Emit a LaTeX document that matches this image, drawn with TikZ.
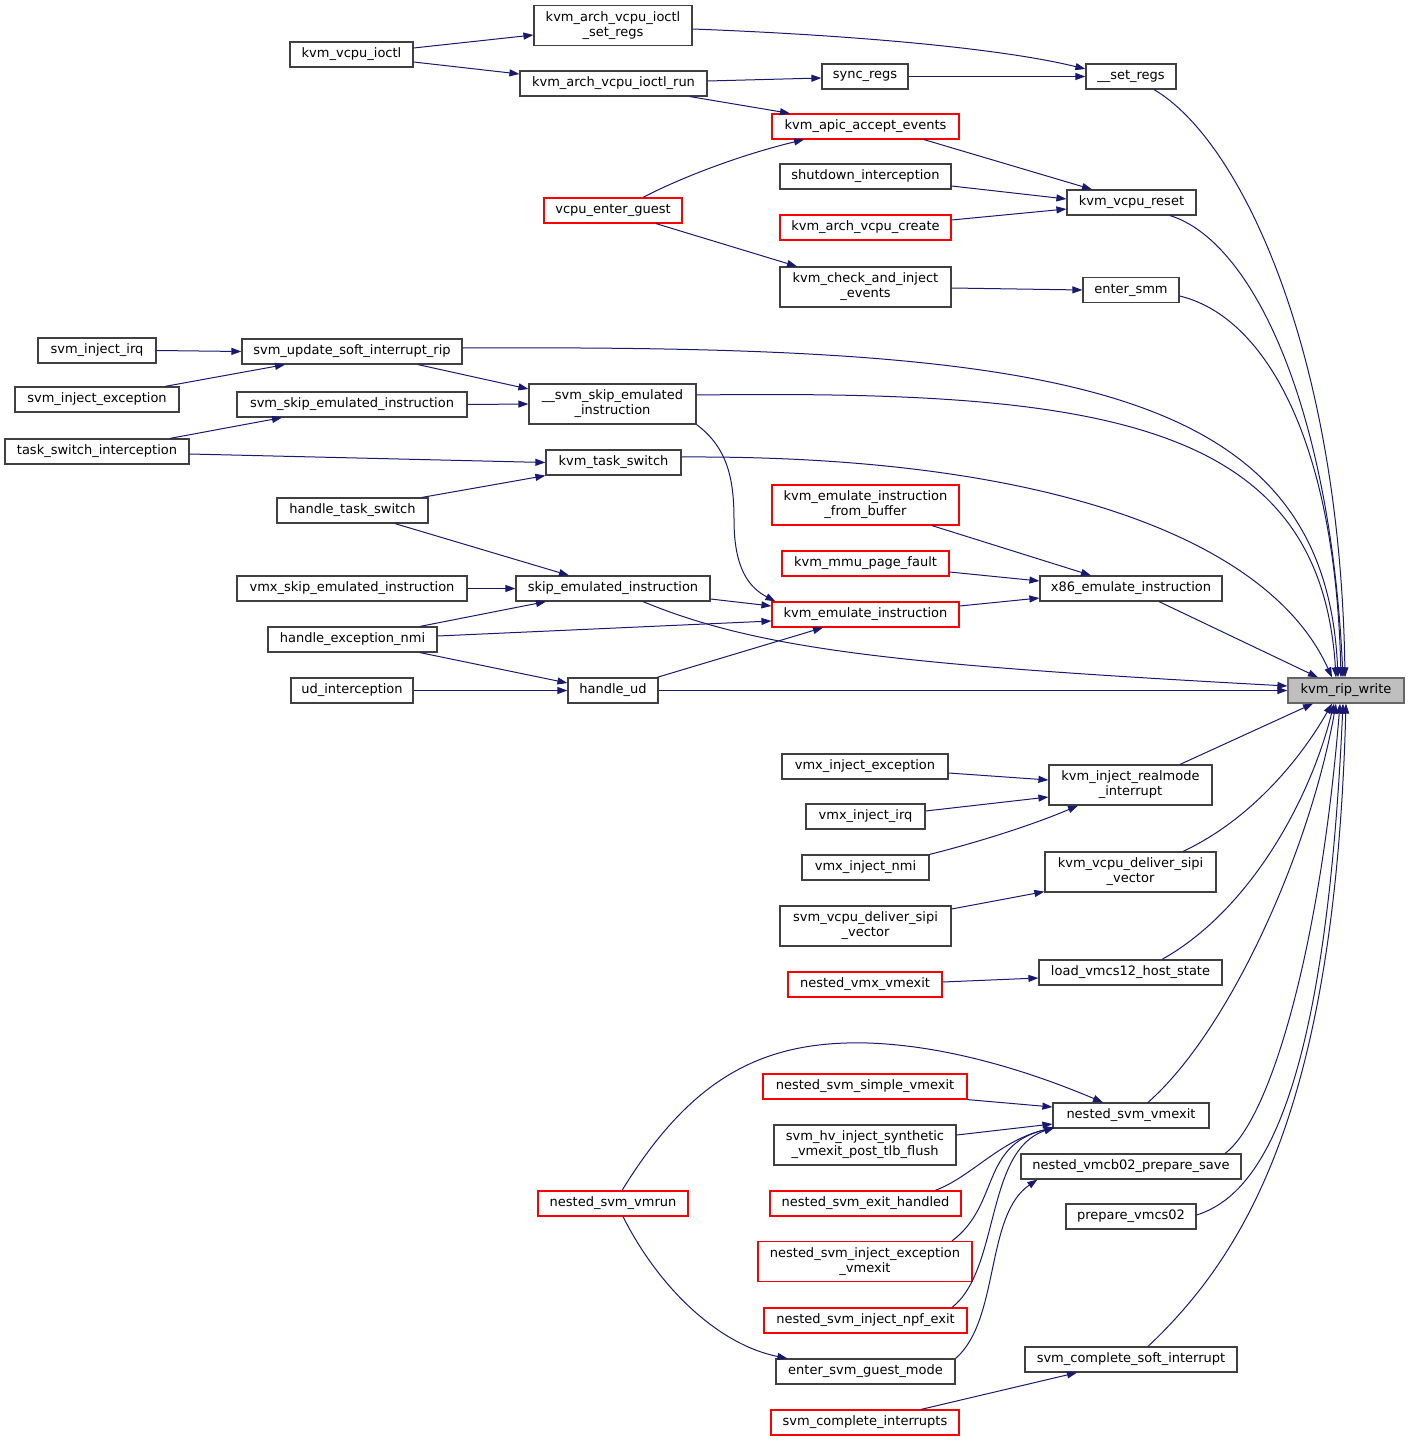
\documentclass[tikz,border=0pt]{standalone}
\usepackage{fontspec}
\newfontfamily\dvs{DejaVu Sans}
\usetikzlibrary{arrows.meta}
\definecolor{edgecol}{HTML}{191970}
\definecolor{boxcol}{HTML}{404040}
\definecolor{ripfill}{HTML}{BFBFBF}
\definecolor{ripdraw}{HTML}{666666}
\tikzset{
  fn/.style={draw=boxcol, line width=1.2pt, fill=white, text=black,
    font=\dvs\fontsize{13}{15}\selectfont, inner xsep=2pt, inner ysep=0pt,
    minimum height=25pt, align=center},
  two/.style={minimum height=40pt},
  hl/.style={draw=red},
  edge/.style={draw=edgecol, line width=1pt, -{Triangle[length=10pt,width=7pt]}}
}
\begin{document}
\begin{tikzpicture}[x=1pt,y=-1pt]
\useasboundingbox (0,0) rectangle (1409,1442);
% nodes
\node[fn,fill=ripfill,draw=ripdraw,minimum width=116pt] (rip) at (1346,690.5) {kvm\_rip\_write};
\node[fn,minimum width=90pt] (setregs) at (1131,76.5) {\_\_set\_regs};
\node[fn,two,minimum width=158pt] (ioctlsetregs) at (613,25.5) {kvm\_arch\_vcpu\_ioctl\\\_set\_regs};
\node[fn,minimum width=123pt] (vcpuioctl) at (351.5,54.5) {kvm\_vcpu\_ioctl};
\node[fn,minimum width=187pt] (ioctlrun) at (613.5,83.5) {kvm\_arch\_vcpu\_ioctl\_run};
\node[fn,minimum width=86pt] (syncregs) at (865,76.5) {sync\_regs};
\node[fn,hl,minimum width=187pt] (apic) at (865.5,126.5) {kvm\_apic\_accept\_events};
\node[fn,minimum width=171pt] (shutdown) at (865.5,176.5) {shutdown\_interception};
\node[fn,minimum width=129pt] (vcpureset) at (1131.5,202.5) {kvm\_vcpu\_reset};
\node[fn,hl,minimum width=138pt] (enterguest) at (613,210.5) {vcpu\_enter\_guest};
\node[fn,hl,minimum width=171pt] (vcpucreate) at (865.5,227.5) {kvm\_arch\_vcpu\_create};
\node[fn,two,minimum width=171pt] (checkinject) at (865.5,287) {kvm\_check\_and\_inject\\\_events};
\node[fn,minimum width=96pt] (entersmm) at (1131,290) {enter\_smm};
\node[fn,minimum width=118pt] (svminjirq) at (97,350.5) {svm\_inject\_irq};
\node[fn,minimum width=220pt] (svmupd) at (352,351.5) {svm\_update\_soft\_interrupt\_rip};
\node[fn,minimum width=164pt] (svminjexc) at (97,399.5) {svm\_inject\_exception};
\node[fn,two,minimum width=167pt] (svmskip2) at (612.5,404) {\_\_svm\_skip\_emulated\\\_instruction};
\node[fn,minimum width=230pt] (svmskip) at (352,404.5) {svm\_skip\_emulated\_instruction};
\node[fn,minimum width=184pt] (tsi) at (97,451.5) {task\_switch\_interception};
\node[fn,minimum width=135pt] (kvmts) at (613.5,462.5) {kvm\_task\_switch};
\node[fn,hl,two,minimum width=187pt] (emufb) at (865.5,505) {kvm\_emulate\_instruction\\\_from\_buffer};
\node[fn,minimum width=151pt] (hts) at (352.5,510.5) {handle\_task\_switch};
\node[fn,hl,minimum width=167pt] (mmupf) at (865.5,563.5) {kvm\_mmu\_page\_fault};
\node[fn,minimum width=230pt] (vmxskip) at (352,588.5) {vmx\_skip\_emulated\_instruction};
\node[fn,minimum width=194pt] (skip) at (613,588.5) {skip\_emulated\_instruction};
\node[fn,minimum width=182pt] (x86emu) at (1131,588.5) {x86\_emulate\_instruction};
\node[fn,hl,minimum width=187pt] (kvmemu) at (865.5,614.5) {kvm\_emulate\_instruction};
\node[fn,minimum width=169pt] (hen) at (352.5,639.5) {handle\_exception\_nmi};
\node[fn,minimum width=122pt] (udint) at (352,690.5) {ud\_interception};
\node[fn,minimum width=90pt] (hud) at (613,690.5) {handle\_ud};
\node[fn,minimum width=166pt] (vmxinjexc) at (865,766.5) {vmx\_inject\_exception};
\node[fn,two,minimum width=163pt] (realmode) at (1130.5,785) {kvm\_inject\_realmode\\\_interrupt};
\node[fn,minimum width=119pt] (vmxinjirq) at (865.5,816.5) {vmx\_inject\_irq};
\node[fn,minimum width=127pt] (vmxinjnmi) at (865.5,867.5) {vmx\_inject\_nmi};
\node[fn,two,minimum width=171pt] (sipi) at (1130.5,872) {kvm\_vcpu\_deliver\_sipi\\\_vector};
\node[fn,two,minimum width=171pt] (svmsipi) at (865.5,926) {svm\_vcpu\_deliver\_sipi\\\_vector};
\node[fn,minimum width=183pt] (load12) at (1130.5,972.5) {load\_vmcs12\_host\_state};
\node[fn,hl,minimum width=154pt] (nvmxexit) at (865,984.5) {nested\_vmx\_vmexit};
\node[fn,hl,minimum width=204pt] (nsimple) at (865,1086.5) {nested\_svm\_simple\_vmexit};
\node[fn,minimum width=156pt] (nsvmexit) at (1131,1115.5) {nested\_svm\_vmexit};
\node[fn,two,minimum width=182pt] (hvinject) at (865,1145) {svm\_hv\_inject\_synthetic\\\_vmexit\_post\_tlb\_flush};
\node[fn,minimum width=220pt] (prepsave) at (1131,1166.5) {nested\_vmcb02\_prepare\_save};
\node[fn,hl,minimum width=150pt] (vmrun) at (613,1203.5) {nested\_svm\_vmrun};
\node[fn,hl,minimum width=191pt] (exithandled) at (865.5,1203.5) {nested\_svm\_exit\_handled};
\node[fn,minimum width=130pt] (prep02) at (1131,1216.5) {prepare\_vmcs02};
\node[fn,hl,two,minimum width=214pt] (injexcvmexit) at (865,1261.5) {nested\_svm\_inject\_exception\\\_vmexit};
\node[fn,hl,minimum width=203pt] (npf) at (865.5,1320.5) {nested\_svm\_inject\_npf\_exit};
\node[fn,minimum width=212pt] (softint) at (1131,1359.5) {svm\_complete\_soft\_interrupt};
\node[fn,minimum width=179pt] (enterguestmode) at (865.5,1371.5) {enter\_svm\_guest\_mode};
\node[fn,hl,minimum width=188pt] (complint) at (865,1422.5) {svm\_complete\_interrupts};
% edges
\draw[edge] ([yshift=6.5pt]vcpuioctl.east) -- ([yshift=-9.5pt]ioctlsetregs.west);
\draw[edge] ([yshift=-7.5pt]vcpuioctl.east) -- ([yshift=9.5pt]ioctlrun.west);
\draw[edge] ([yshift=-3.5pt]ioctlsetregs.east) .. controls (850,35) and (1000,48) .. ([yshift=7.5pt]setregs.west);
\draw[edge] ([yshift=2.5pt]ioctlrun.east) -- ([yshift=-1.5pt]syncregs.west);
\draw[edge] (syncregs.east) -- (setregs.west);
\draw[edge] ([xshift=76.5pt]ioctlrun.south) -- ([xshift=-75.5pt]apic.north);
\draw[edge] ([xshift=30pt]enterguest.north) .. controls (680,178) and (740,155) .. ([xshift=-61.5pt]apic.south);
\draw[edge] ([xshift=58.5pt]apic.south) -- ([xshift=-39.5pt]vcpureset.north);
\draw[edge] ([yshift=-9.5pt]shutdown.east) -- ([yshift=3.5pt]vcpureset.west);
\draw[edge] ([yshift=7.5pt]vcpucreate.east) -- ([yshift=-6.5pt]vcpureset.west);
\draw[edge] ([xshift=43pt]enterguest.south) -- ([xshift=-68.5pt]checkinject.north);
\draw[edge] ([yshift=-1pt]checkinject.east) -- (entersmm.west);
\draw[edge] (svminjirq.east) -- (svmupd.west);
\draw[edge] ([xshift=68pt]svminjexc.north) -- ([xshift=-67pt]svmupd.south);
\draw[edge] ([xshift=66pt]svmupd.south) -- ([yshift=15pt]svmskip2.west);
\draw[edge] (svmskip.east) -- (svmskip2.west);
\draw[edge] ([xshift=73pt]tsi.north) -- ([xshift=-70pt]svmskip.south);
\draw[edge] ([yshift=-2.5pt]tsi.east) -- (kvmts.west);
\draw[edge] ([xshift=69.5pt]hts.north) -- (kvmts.south west);
\draw[edge] ([xshift=42.5pt]hts.south) -- ([xshift=-44pt]skip.north);
\draw[edge] (vmxskip.east) -- (skip.west);
\draw[edge] ([xshift=67.5pt]hen.north) -- ([xshift=-67pt]skip.south);
\draw[edge] ([yshift=-10.5pt]skip.east) -- ([yshift=8.5pt]kvmemu.west);
\draw[edge] ([yshift=3.5pt]hen.east) -- ([yshift=-6.5pt]kvmemu.west);
\draw[edge] ([xshift=44pt]hud.north) -- ([xshift=-42.5pt]kvmemu.south);
\draw[edge] (svmskip2.south east) .. controls (728,448) and (734,480) .. (734,520) .. controls (734,570) and (750,588) .. ([xshift=4pt]kvmemu.north west);
\draw[edge] ([xshift=67.5pt]hen.south) -- ([yshift=7.5pt]hud.west);
\draw[edge] (udint.east) -- (hud.west);
\draw[edge] ([xshift=66.5pt]emufb.south) -- ([xshift=-40pt]x86emu.north);
\draw[edge] ([yshift=-8.5pt]mmupf.east) -- ([yshift=7.5pt]x86emu.west);
\draw[edge] ([yshift=8.5pt]kvmemu.east) -- ([yshift=-9.5pt]x86emu.west);
\draw[edge] ([yshift=-6.5pt]vmxinjexc.east) -- ([yshift=5pt]realmode.west);
\draw[edge] ([yshift=5.5pt]vmxinjirq.east) -- ([yshift=-12pt]realmode.west);
\draw[edge] (vmxinjnmi.north east) .. controls (975,843) and (1030,826) .. ([xshift=-52.5pt]realmode.south);
\draw[edge] ([yshift=17pt]svmsipi.east) -- ([yshift=1pt]sipi.south west);
\draw[edge] ([yshift=2.5pt]nvmxexit.east) -- ([yshift=-5.5pt]load12.west);
\draw[edge] (nsimple.south east) -- ([yshift=8.5pt]nsvmexit.west);
\draw[edge] ([yshift=10pt]hvinject.east) -- ([yshift=-8.5pt]nsvmexit.west);
\draw[edge] ([xshift=69.5pt]exithandled.north) .. controls (970,1178) and (1000,1140) .. ([xshift=2pt,yshift=1pt]nsvmexit.south west);
\draw[edge] ([xshift=87pt]injexcvmexit.north) .. controls (1000,1205) and (980,1145) .. ([xshift=2pt,yshift=1pt]nsvmexit.south west);
\draw[edge] ([xshift=86.5pt]npf.north) .. controls (1000,1270) and (985,1150) .. ([xshift=2pt,yshift=1pt]nsvmexit.south west);
\draw[edge] ([xshift=9pt]vmrun.north) .. controls (690,1080) and (760,1040) .. (868,1043) .. controls (960,1046) and (1050,1080) .. ([xshift=-28pt]nsvmexit.north);
\draw[edge] ([xshift=10pt]vmrun.south) .. controls (660,1290) and (720,1345) .. ([xshift=12pt]enterguestmode.north west);
\draw[edge] (enterguestmode.north east) .. controls (1000,1320) and (985,1215) .. ([xshift=17pt]prepsave.south west);
\draw[edge] ([xshift=56pt]complint.north) -- ([xshift=-54pt]softint.south);
% edges into kvm_rip_write
\draw[edge] ([xshift=23pt]setregs.south) .. controls (1240,140) and (1340,350) .. ([xshift=-1pt]rip.north);
\draw[edge] ([xshift=38.5pt]vcpureset.south) .. controls (1250,240) and (1330,400) .. ([xshift=-3pt]rip.north);
\draw[edge] ([yshift=-6pt]entersmm.east) .. controls (1260,315) and (1335,430) .. ([xshift=-5pt]rip.north);
\draw[edge] ([yshift=3.5pt]svmupd.east) .. controls (1050,345) and (1325,380) .. ([xshift=-8pt]rip.north);
\draw[edge] ([yshift=9pt]svmskip2.east) .. controls (1100,390) and (1320,420) .. ([xshift=-10pt]rip.north);
\draw[edge] ([yshift=5.5pt]kvmts.east) .. controls (1050,455) and (1270,540) .. ([xshift=-14pt]rip.north);
\draw[edge] ([xshift=28pt]x86emu.south) -- ([xshift=-28pt]rip.north);
\draw[edge] ([xshift=30pt]skip.south) .. controls (760,650) and (900,665) .. ([yshift=4.5pt]rip.west);
\draw[edge] (hud.east) -- (rip.west);
\draw[edge] ([xshift=49.5pt]realmode.north) -- ([xshift=-33pt]rip.south);
\draw[edge] ([xshift=52.5pt]sipi.north) .. controls (1250,820) and (1300,760) .. ([xshift=-14pt]rip.south);
\draw[edge] ([xshift=31.5pt]load12.north) .. controls (1250,910) and (1310,800) .. ([xshift=-12pt]rip.south);
\draw[edge] ([xshift=17pt]nsvmexit.north) .. controls (1230,1030) and (1310,850) .. ([xshift=-10pt]rip.south);
\draw[edge] ([xshift=94pt]prepsave.north) .. controls (1270,1120) and (1320,950) .. ([xshift=-6pt]rip.south);
\draw[edge] ([yshift=1.5pt]prep02.east) .. controls (1260,1195) and (1325,1100) .. ([xshift=-3pt]rip.south);
\draw[edge] ([xshift=17pt]softint.north) .. controls (1250,1250) and (1335,1100) .. (rip.south);
\end{tikzpicture}
\end{document}
